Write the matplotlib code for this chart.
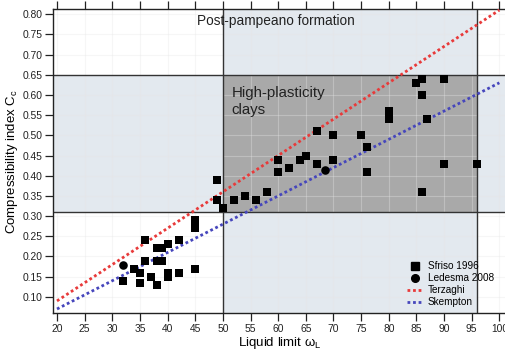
import numpy as np
import matplotlib.pyplot as plt
from matplotlib.lines import Line2D

# Sfriso 1996 data (liquid limit, Cc)
sfriso_ll = [32, 34, 35, 35, 36, 36, 37, 38, 38, 38, 39, 39, 40, 40, 40, 42, 42, 45, 45, 45,
             49, 49, 50, 52, 54, 56, 58, 60, 60, 62, 64, 65, 67, 67, 70, 70, 75, 76, 76,
             80, 80, 85, 86, 86, 86, 87, 90, 90, 96]
sfriso_cc = [0.14, 0.17, 0.16, 0.135, 0.24, 0.19, 0.15, 0.22, 0.19, 0.13, 0.22, 0.19, 0.23, 0.16, 0.15, 0.24, 0.16, 0.29, 0.27, 0.17,
             0.39, 0.34, 0.32, 0.34, 0.35, 0.34, 0.36, 0.44, 0.41, 0.42, 0.44, 0.45, 0.43, 0.51, 0.50, 0.44, 0.50, 0.47, 0.41,
             0.56, 0.54, 0.63, 0.64, 0.60, 0.36, 0.54, 0.64, 0.43, 0.43]

# Ledesma 2008 data
ledesma_ll = [32, 68.5]
ledesma_cc = [0.18, 0.415]

# empirical correlations Cc = k (LL - 10)
ll_line = np.array([20, 100])
terzaghi_k = 0.009
skempton_k = 0.007

# zone limits
ll_min, ll_max = 50, 96
cc_min, cc_max = 0.31, 0.65

plt.rcParams['font.family'] = ['Liberation Sans', 'DejaVu Sans']
plt.rcParams['mathtext.fontset'] = 'custom'
plt.rcParams['mathtext.rm'] = 'Liberation Sans'
plt.rcParams['mathtext.it'] = 'Liberation Sans'

fig = plt.figure(figsize=(5.06, 3.57), dpi=100)
ax = fig.add_axes([0.105, 0.122, 0.895, 0.852])

ax.set_xlim(19.3, 101.2)
ax.set_ylim(0.059, 0.812)

blue = '#e3e9ef'
# shaded zones
ax.axhspan(cc_min, cc_max, color=blue, zorder=0, lw=0)
ax.axvspan(ll_min, ll_max, color=blue, zorder=0, lw=0)
ax.fill_between([ll_min, ll_max], cc_min, cc_max, color='#a9a9a9', zorder=0.5, lw=0)

ax.set_xticks(np.arange(20, 101, 5))
ax.set_yticks(np.arange(0.10, 0.81, 0.05))
ax.yaxis.set_major_formatter(plt.FormatStrFormatter('%.2f'))
ax.grid(True, color='#e6e6e6', lw=0.8, alpha=0.35)
for gl in ax.get_xgridlines() + ax.get_ygridlines():
    gl.set_zorder(1)

# zone boundaries
frame = dict(color='#333333', lw=1.0, zorder=2)
ax.axhline(cc_max, **frame)
ax.axhline(cc_min, **frame)
ax.axvline(ll_min, **frame)
ax.axvline(ll_max, **frame)

red_c, blue_c = '#e83a3a', '#4646bc'
ax.plot(ll_line, terzaghi_k * (ll_line - 10), ls=(0, (1, 1)), color=red_c, lw=2, zorder=3)
ax.plot(ll_line, skempton_k * (ll_line - 10), ls=(0, (1, 1)), color=blue_c, lw=2, zorder=3)

ax.scatter(sfriso_ll, sfriso_cc, marker='s', s=34, color='black', zorder=4, lw=0)
ax.scatter(ledesma_ll, ledesma_cc, marker='o', s=38, color='black', zorder=4, lw=0)

ax.text(45.3, 0.773, 'Post-pampeano formation', fontsize=9.8, color='#222222',
        va='baseline', zorder=5)
ax.text(51.6, 0.595, 'High-plasticity', fontsize=10.8, color='#222222', va='baseline', zorder=5)
ax.text(51.6, 0.552, 'clays', fontsize=10.8, color='#222222', va='baseline', zorder=5)

ax.set_xlabel('Liquid limit ω$_L$', fontsize=9.5, labelpad=1)
ax.set_ylabel('Compressibility index C$_c$', fontsize=9.5, labelpad=2)

ax.xaxis.set_ticks_position('both')
ax.tick_params(axis='both', labelsize=7.4, length=5.5, width=0.9, color='#222222',
               labelcolor='#222222', pad=2, direction='out')
ax.tick_params(axis='x', top=True, labeltop=False)
for side in ['left', 'bottom', 'top']:
    ax.spines[side].set_color('#222222')
    ax.spines[side].set_linewidth(1.0)
ax.spines['right'].set_visible(False)

handles = [
    Line2D([], [], marker='s', color='black', ls='none', markersize=5.5),
    Line2D([], [], marker='o', color='black', ls='none', markersize=5.5),
    Line2D([], [], color=red_c, ls=(0, (1, 1)), lw=2),
    Line2D([], [], color=blue_c, ls=(0, (1, 1)), lw=2),
]
labels = ['Sfriso 1996', 'Ledesma 2008', 'Terzaghi', 'Skempton']
ax.legend(handles, labels, loc='lower left', bbox_to_anchor=(0.781, 0.02), frameon=False,
          fontsize=7.2, handlelength=1.6, handletextpad=0.5, labelspacing=0.2,
          borderpad=0, borderaxespad=0)

fig.savefig('out.png', dpi=100)
